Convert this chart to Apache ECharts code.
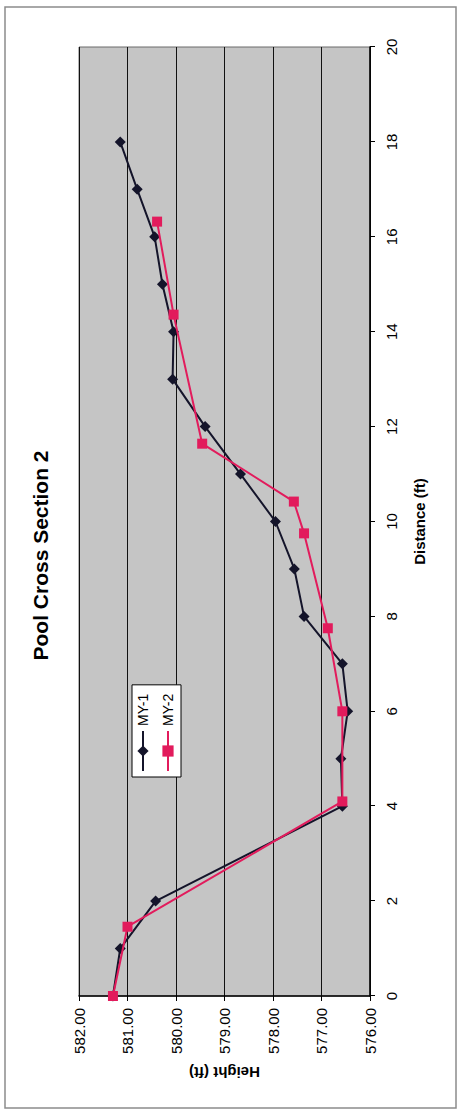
<!DOCTYPE html>
<html>
<head>
<meta charset="utf-8">
<script src="https://cdn.jsdelivr.net/npm/echarts@6/dist/echarts.min.js"></script>
<style>
  html, body { margin: 0; padding: 0; background: #fff; overflow: hidden; width: 458px; height: 1111px; }
  #wrap { position: absolute; left: 0; top: 0; width: 1111px; height: 458px;
          transform-origin: 0 0; transform: translateY(1111px) rotate(-90deg); }
  #chart { width: 1111px; height: 458px; }
</style>
</head>
<body>
<div id="wrap"><div id="chart"></div></div>
<script>
// Data (distance in ft, height in ft)
const distanceMY1 = [0, 1, 2, 4, 5, 6, 7, 8, 9, 10, 11, 12, 13, 14, 15, 16, 17, 18];
const heightMY1   = [581.30, 581.15, 580.42, 576.57, 576.60, 576.46, 576.57, 577.36, 577.56, 577.95, 578.67, 579.40, 580.07, 580.05, 580.28, 580.44, 580.80, 581.15];
const distanceMY2 = [0, 1.46, 4.1, 6, 7.75, 9.75, 10.42, 11.64, 14.36, 16.32];
const heightMY2   = [581.30, 581.00, 576.57, 576.57, 576.87, 577.36, 577.57, 579.46, 580.05, 580.39];
const seriesNames = ['MY-1', 'MY-2'];
const titleText = 'Pool Cross Section 2';
const xAxisName = 'Distance (ft)';
const yAxisName = 'Height (ft)';

const FONT = '"Liberation Sans", Arial, sans-serif';
const pairs = (xs, ys) => xs.map((x, i) => [x, ys[i]]);

const chart = echarts.init(document.getElementById('chart'), null, { renderer: 'svg' });
chart.setOption({
  animation: false,
  backgroundColor: '#ffffff',
  textStyle: { fontFamily: FONT, color: '#000' },
  title: {
    text: titleText, left: 'center', top: 25,
    textStyle: { fontFamily: FONT, fontSize: 21, fontWeight: 'bold', color: '#000' }
  },
  graphic: [{
    type: 'rect', silent: true, z: -10,
    shape: { x: 3, y: 5, width: 1101, height: 451 },
    style: { fill: 'none', stroke: '#8c8c8c', lineWidth: 1.5 }
  }],
  legend: {
    orient: 'vertical', left: 334, top: 132,
    itemWidth: 40, itemHeight: 14, itemGap: 11,
    padding: [4, 9, 6, 5],
    backgroundColor: '#ffffff', borderColor: '#000', borderWidth: 1,
    textStyle: { fontFamily: FONT, fontSize: 14, color: '#000' },
    data: seriesNames
  },
  grid: {
    left: 115, right: 47, top: 79, bottom: 88,
    show: true, backgroundColor: '#c5c5c5', borderColor: '#6a6a6a', borderWidth: 1
  },
  xAxis: {
    type: 'value', min: 0, max: 20, interval: 2,
    name: xAxisName, nameLocation: 'middle', nameGap: 42,
    nameTextStyle: { fontFamily: FONT, fontSize: 15, fontWeight: 'bold', color: '#000' },
    axisLine: { show: true, onZero: false, lineStyle: { color: '#000', width: 1.5 } },
    axisTick: { show: true, inside: false, length: 5, lineStyle: { color: '#000' } },
    axisLabel: { fontFamily: FONT, fontSize: 15, color: '#000', margin: 14 },
    splitLine: { show: false }
  },
  yAxis: {
    type: 'value', min: 576, max: 582, interval: 1,
    name: yAxisName, nameLocation: 'middle', nameGap: 68, nameRotate: 90,
    nameTextStyle: { fontFamily: FONT, fontSize: 15, fontWeight: 'bold', color: '#000' },
    axisLine: { show: true, onZero: false, lineStyle: { color: '#000', width: 1.5 } },
    axisTick: { show: true, inside: false, length: 5, lineStyle: { color: '#000' } },
    axisLabel: { fontFamily: FONT, fontSize: 15, color: '#000', margin: 12,
                 formatter: v => v.toFixed(2) },
    splitLine: { show: true, lineStyle: { color: '#111', width: 1 } }
  },
  series: [
    {
      name: seriesNames[0], type: 'line', data: pairs(distanceMY1, heightMY1),
      symbol: 'diamond', symbolSize: 11, showAllSymbol: true,
      lineStyle: { color: '#14142a', width: 2 },
      itemStyle: { color: '#14142a', borderWidth: 0 },
      z: 2
    },
    {
      name: seriesNames[1], type: 'line', data: pairs(distanceMY2, heightMY2),
      symbol: 'rect', symbolSize: 10, showAllSymbol: true,
      lineStyle: { color: '#e21b5c', width: 2 },
      itemStyle: { color: '#e21b5c', borderWidth: 0 },
      z: 3
    }
  ]
});
</script>
</body>
</html>
